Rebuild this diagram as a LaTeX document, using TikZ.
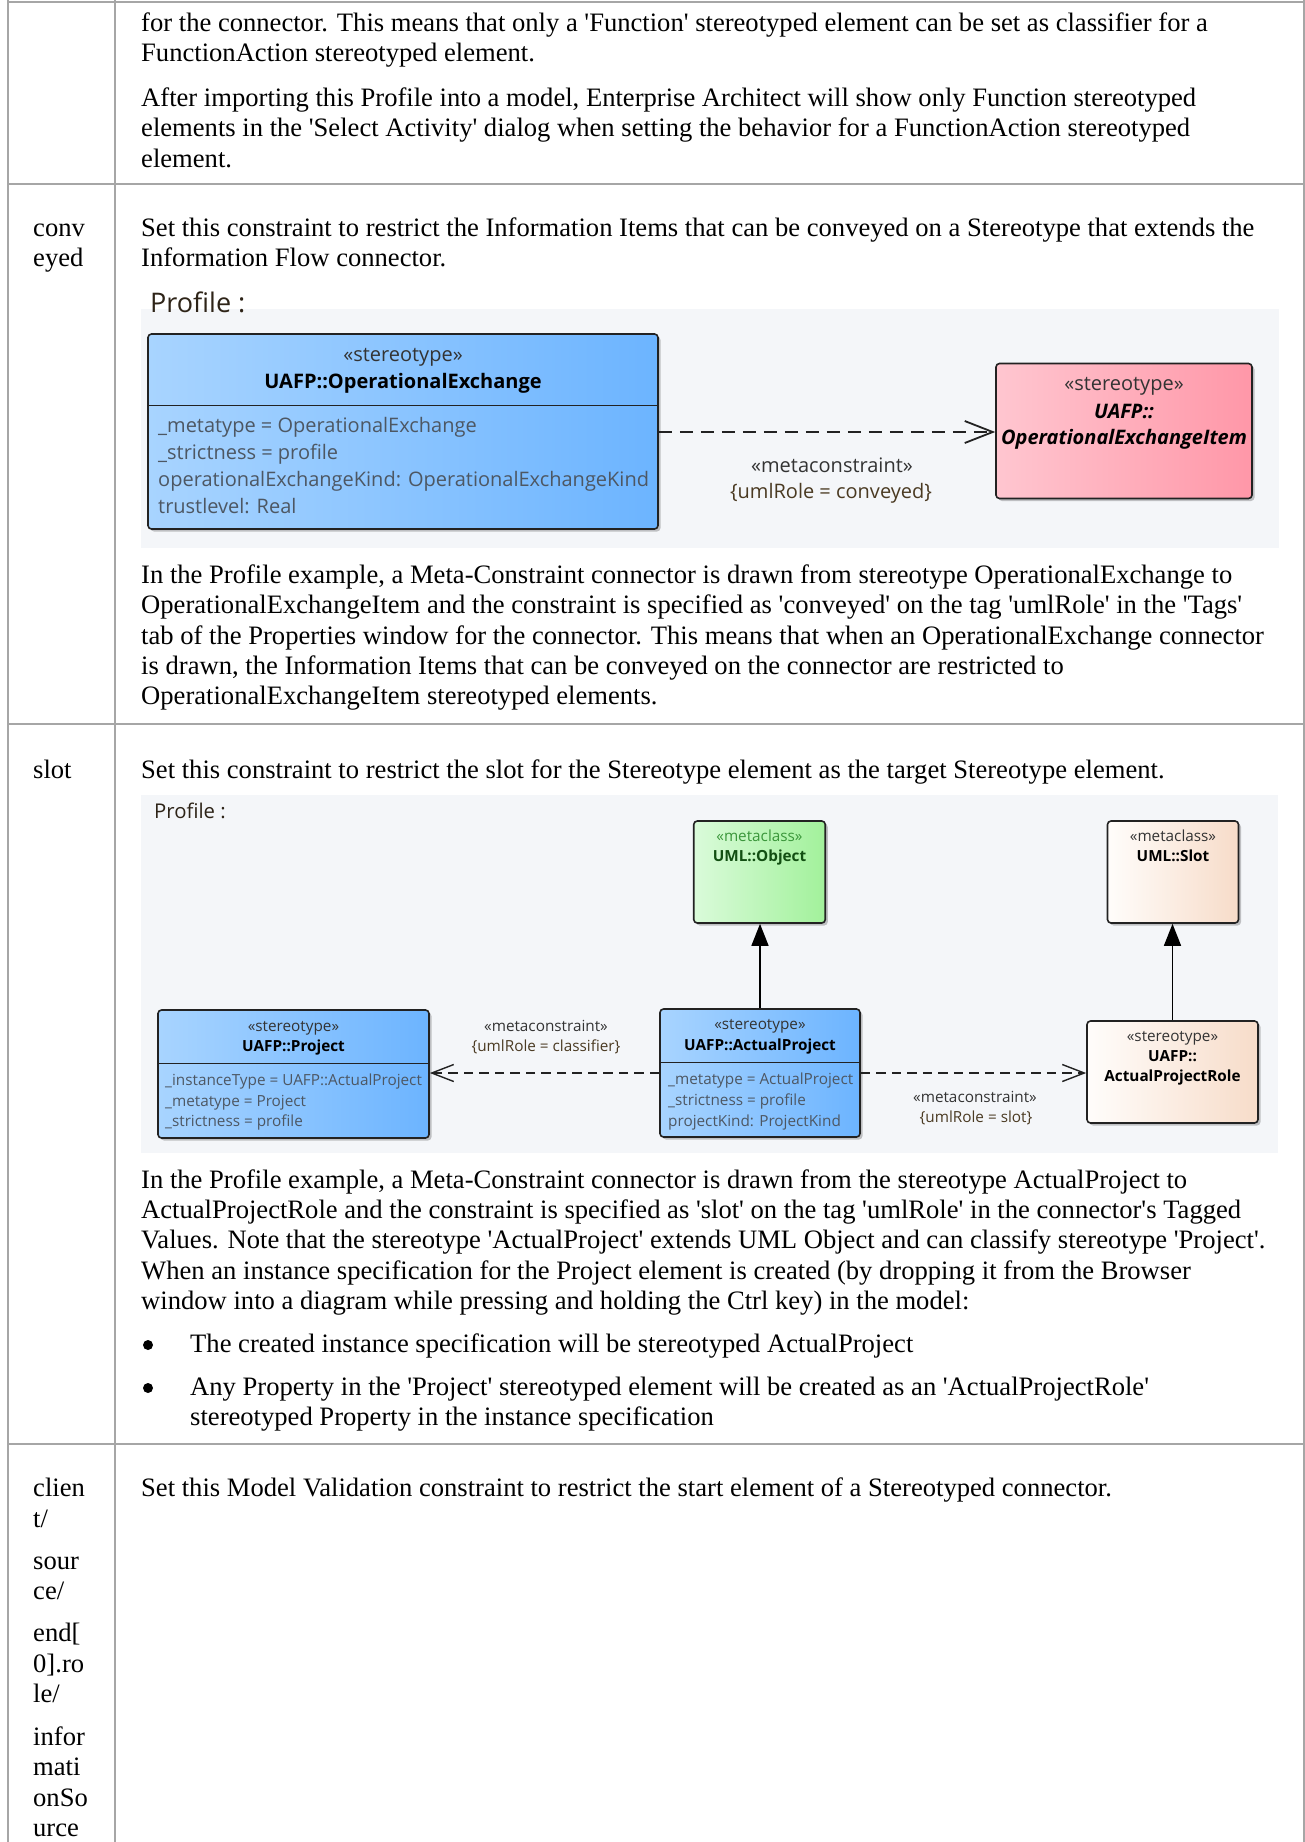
\documentclass[tikz,border=0pt]{standalone}
\usepackage{fontspec}
\setmainfont{Liberation Serif}[Ligatures=TeXOff]
\newfontfamily\dfont{Open Sans}
\usetikzlibrary{shadows,arrows.meta}
\definecolor{gridline}{HTML}{A6A6A6}
\definecolor{bgdiag}{HTML}{F4F6F9}
\definecolor{blueL}{HTML}{A8D4FF}
\definecolor{blueR}{HTML}{6CB4FF}
\definecolor{pinkL}{HTML}{FFC6D0}
\definecolor{pinkR}{HTML}{FF97A8}
\definecolor{greenL}{HTML}{DAFBDA}
\definecolor{greenR}{HTML}{A2F19B}
\definecolor{creamL}{HTML}{FFFDFB}
\definecolor{creamR}{HTML}{F7DCC9}
\definecolor{boxline}{HTML}{222222}
\definecolor{attr}{HTML}{4D5763}
\definecolor{lblc}{HTML}{4A3A22}
\definecolor{stc}{HTML}{333333}
\definecolor{mgreen}{HTML}{3A963A}
\definecolor{dgreen}{HTML}{124F12}
\definecolor{proc}{HTML}{2E2418}
\newcommand\bodysize{\fontsize{26.6}{30.4}\selectfont}
\newcommand\dfontA{\dfont\fontsize{20}{24}\selectfont}
\newcommand\dfontB{\dfont\fontsize{15.3}{18}\selectfont}
\tikzset{
  body/.style={inner sep=0pt, anchor=base west, font=\bodysize},
  bulletdot/.style={circle, fill=black, inner sep=0pt, minimum size=10pt},
  ctrA/.style={inner sep=0pt, anchor=base, font=\dfontA},
  lftA/.style={inner sep=0pt, anchor=base west, font=\dfontA, text=attr},
  ctrB/.style={inner sep=0pt, anchor=base, font=\dfontB},
  lftB/.style={inner sep=0pt, anchor=base west, font=\dfontB, text=attr},
  gridrule/.style={draw=gridline, line width=2pt},
  umlbox/.style={draw=boxline, line width=1.6pt, rounded corners=3.5pt, inner sep=0pt,
    drop shadow={shadow xshift=2.5pt, shadow yshift=-2.5pt, opacity=0.22, fill=black}},
  bluebox/.style={umlbox, left color=blueL, right color=blueR},
  pinkbox/.style={umlbox, left color=pinkL, right color=pinkR},
  greenbox/.style={umlbox, left color=greenL, right color=greenR},
  creambox/.style={umlbox, left color=creamL, right color=creamR},
  dashA/.style={draw=boxline, line width=1.8pt, dash pattern=on 13pt off 8pt,
    -{Straight Barb[length=28pt, width=22pt, line width=1.8pt]}},
  dashB/.style={draw=boxline, line width=1.4pt, dash pattern=on 9.5pt off 6pt,
    -{Straight Barb[length=22pt, width=17pt, line width=1.4pt]}},
  extarrow/.style={draw=black, line width=1.4pt, -{Triangle[length=22pt, width=17pt]}},
  divider/.style={draw=boxline, line width=1.4pt}
}
\begin{document}
\begin{tikzpicture}[x=1pt, y=-1pt]
\useasboundingbox (0,0) rectangle (1305,1842);
\fill[white] (0,0) rectangle (1305,1842);
% ---------------- table rules
\draw[gridrule] (8,1.5) -- (1304,1.5);
\draw[gridrule] (8,184) -- (1304,184);
\draw[gridrule] (8,724) -- (1304,724);
\draw[gridrule] (8,1443.5) -- (1304,1443.5);
\draw[gridrule] (8,0) -- (8,1842);
\draw[gridrule] (115,0) -- (115,1842);
\draw[gridrule] (1304,0) -- (1304,1842);
% ---------------- row 1
\node[body] (r1a) at (141,31.5) {for the connector. This means that only a 'Function' stereotyped element can be set as classifier for a};
\node[body] (r1b) at (141,61.9) {FunctionAction stereotyped element.};
\node[body] (r1c) at (141,106.5) {After importing this Profile into a model, Enterprise Architect will show only Function stereotyped};
\node[body] (r1d) at (141,136.9) {elements in the 'Select Activity' dialog when setting the behavior for a FunctionAction stereotyped};
\node[body] (r1e) at (141,167.3) {element.};
% ---------------- row 2
\node[body] (k2a) at (33,236.5) {conv};
\node[body] (k2b) at (33,266.9) {eyed};
\node[body] (r2a) at (141,236.5) {Set this constraint to restrict the Information Items that can be conveyed on a Stereotype that extends the};
\node[body] (r2b) at (141,266.9) {Information Flow connector.};
% diagram 1
\fill[bgdiag] (141,309) rectangle (1279,548);
\node[inner sep=0pt, anchor=base west, font=\dfont\fontsize{27}{30}\selectfont, text=proc] (p1) at (150,312) {Profile :};
\node[bluebox, minimum width=510pt, minimum height=195pt] (oe) at (403,431.5) {};
\draw[divider] ([yshift=-72pt]oe.north west) -- ([yshift=-72pt]oe.north east);
\node[ctrA, text=stc] (oest) at (403,361) {«stereotype»};
\node[ctrA] (oenm) at (403,388) {\bfseries UAFP::OperationalExchange};
\node[lftA] (oea1) at (158,432) {\_metatype = OperationalExchange};
\node[lftA] (oea2) at (158,459) {\_strictness = profile};
\node[lftA] (oea3) at (158,486) {operationalExchangeKind: OperationalExchangeKind};
\node[lftA] (oea4) at (158,513) {trustlevel: Real};
\node[pinkbox, minimum width=256pt, minimum height=135pt] (oei) at (1124,431) {};
\node[ctrA, text=stc] (oeist) at (1124,390) {«stereotype»};
\node[ctrA] (oein1) at (1124,418) {\bfseries\itshape UAFP::};
\node[ctrA] (oein2) at (1124,444) {\bfseries\itshape OperationalExchangeItem};
\draw[dashA] (oe.east |- 0,432) -- (oei.west |- 0,432);
\node[ctrA, text=stc] (mc1a) at (832,472) {«metaconstraint»};
\node[ctrA, text=lblc] (mc1b) at (831,498) {\{umlRole = conveyed\}};
% text after diagram 1
\node[body] (r2c) at (141,583.3) {In the Profile example, a Meta-Constraint connector is drawn from stereotype OperationalExchange to};
\node[body] (r2d) at (141,613.7) {OperationalExchangeItem and the constraint is specified as 'conveyed' on the tag 'umlRole' in the 'Tags'};
\node[body] (r2e) at (141,644.1) {tab of the Properties window for the connector. This means that when an OperationalExchange connector};
\node[body] (r2f) at (141,674.5) {is drawn, the Information Items that can be conveyed on the connector are restricted to};
\node[body] (r2g) at (141,704.9) {OperationalExchangeItem stereotyped elements.};
% ---------------- row 3
\node[body] (k3a) at (33,778) {slot};
\node[body] (r3a) at (141,778) {Set this constraint to restrict the slot for the Stereotype element as the target Stereotype element.};
% diagram 2
\fill[bgdiag] (141,795) rectangle (1278,1153);
\node[inner sep=0pt, anchor=base west, font=\dfont\fontsize{20.3}{24}\selectfont, text=proc] (p2) at (154,818) {Profile :};
% UML::Object
\node[greenbox, minimum width=131.5pt, minimum height=102pt] (obj) at (759.5,872) {};
\node[ctrB, text=mgreen] (objst) at (759.5,841) {«metaclass»};
\node[ctrB, text=dgreen] (objnm) at (759.5,861) {\bfseries UML::Object};
% UML::Slot
\node[creambox, minimum width=131pt, minimum height=102pt] (slot) at (1173,872) {};
\node[ctrB, text=stc] (slotst) at (1173,841) {«metaclass»};
\node[ctrB] (slotnm) at (1173,861) {\bfseries UML::Slot};
% UAFP::Project
\node[bluebox, minimum width=271pt, minimum height=128pt] (proj) at (293.5,1074) {};
\draw[divider] ([yshift=-54pt]proj.north west) -- ([yshift=-54pt]proj.north east);
\node[ctrB, text=stc] (projst) at (293.5,1031) {«stereotype»};
\node[ctrB] (projnm) at (293.5,1051) {\bfseries UAFP::Project};
\node[lftB] (proja1) at (165,1085) {\_instanceType = UAFP::ActualProject};
\node[lftB] (proja2) at (165,1106) {\_metatype = Project};
\node[lftB] (proja3) at (165,1126) {\_strictness = profile};
% UAFP::ActualProject
\node[bluebox, minimum width=200pt, minimum height=128pt] (ap) at (760,1073) {};
\draw[divider] ([yshift=-54pt]ap.north west) -- ([yshift=-54pt]ap.north east);
\node[ctrB, text=stc] (apst) at (760,1029) {«stereotype»};
\node[ctrB] (apnm) at (760,1050) {\bfseries UAFP::ActualProject};
\node[lftB] (apa1) at (668,1084) {\_metatype = ActualProject};
\node[lftB] (apa2) at (668,1105) {\_strictness = profile};
\node[lftB] (apa3) at (668,1126) {projectKind: ProjectKind};
% ActualProjectRole
\node[creambox, minimum width=171pt, minimum height=102pt] (role) at (1172.5,1072) {};
\node[ctrB, text=stc] (rolest) at (1172.5,1041) {«stereotype»};
\node[ctrB] (rolen1) at (1172.5,1061) {\bfseries UAFP::};
\node[ctrB] (rolen2) at (1172.5,1081) {\bfseries ActualProjectRole};
% connectors
\draw[extarrow] (ap.north) -- (ap.north |- obj.south);
\draw[extarrow] (role.north) -- (role.north |- slot.south);
\draw[dashB] (ap.west |- 0,1073) -- (proj.east |- 0,1073);
\draw[dashB] (ap.east |- 0,1073) -- (role.west |- 0,1073);
\node[ctrB, text=stc] (mc2a) at (546,1031) {«metaconstraint»};
\node[ctrB, text=lblc] (mc2b) at (546,1051) {\{umlRole = classifier\}};
\node[ctrB, text=stc] (mc3a) at (975,1102) {«metaconstraint»};
\node[ctrB, text=lblc] (mc3b) at (976,1122) {\{umlRole = slot\}};
% text after diagram 2
\node[body] (r3b) at (141,1188) {In the Profile example, a Meta-Constraint connector is drawn from the stereotype ActualProject to};
\node[body] (r3c) at (141,1218.4) {ActualProjectRole and the constraint is specified as 'slot' on the tag 'umlRole' in the connector's Tagged};
\node[body] (r3d) at (141,1248.8) {Values. Note that the stereotype 'ActualProject' extends UML Object and can classify stereotype 'Project'.};
\node[body] (r3e) at (141,1279.2) {When an instance specification for the Project element is created (by dropping it from the Browser};
\node[body] (r3f) at (141,1309.6) {window into a diagram while pressing and holding the Ctrl key) in the model:};
\node[bulletdot] (b1) at (148,1345) {};
\node[body] (r3g) at (190,1352) {The created instance specification will be stereotyped ActualProject};
\node[bulletdot] (b2) at (148,1388) {};
\node[body] (r3h) at (190,1395) {Any Property in the 'Project' stereotyped element will be created as an 'ActualProjectRole'};
\node[body] (r3i) at (190,1425) {stereotyped Property in the instance specification};
% ---------------- row 4
\node[body] (r4a) at (141,1496.5) {Set this Model Validation constraint to restrict the start element of a Stereotyped connector.};
\node[body] (k4a) at (33,1496.5) {clien};
\node[body] (k4b) at (33,1527) {t/};
\node[body] (k4c) at (33,1569) {sour};
\node[body] (k4d) at (33,1599) {ce/};
\node[body] (k4e) at (33,1641.5) {end[};
\node[body] (k4f) at (33,1672) {0].ro};
\node[body] (k4g) at (33,1702.5) {le/};
\node[body] (k4h) at (33,1745) {infor};
\node[body] (k4i) at (33,1775.5) {mati};
\node[body] (k4j) at (33,1806) {onSo};
\node[body] (k4k) at (33,1836.5) {urce};
\end{tikzpicture}
\end{document}
